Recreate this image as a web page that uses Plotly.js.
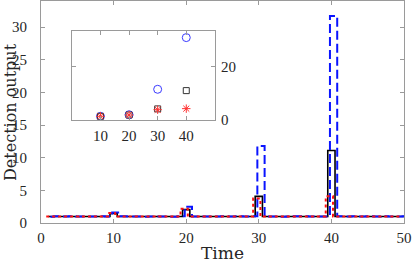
<!DOCTYPE html>
<html><head><meta charset="utf-8">
<script src="https://cdn.plot.ly/plotly-3.0.1.min.js"></script>
<style>html,body{margin:0;padding:0;background:#fff}#chart{width:415px;height:268px}</style>
</head><body><div id="chart"></div>
<script>
// ---- data ----
const time = [1,2,3,4,5,6,7,8,9,10,11,12,13,14,15,16,17,18,19,20,21,22,23,24,25,26,27,28,29,30,31,32,33,34,35,36,37,38,39,40,41,42,43,44,45,46,47,48,49,50];
const blueVals = [0.97,1.02,1.0,1.04,1.01,0.99,1.0,1.02,1.0,1.6,1.03,1.0,0.98,0.95,1.01,1.0,0.99,0.97,1.03,2.5,1.0,1.01,0.99,1.0,1.02,1.0,1.05,1.0,1.03,11.8,0.98,1.0,0.94,1.01,1.04,1.02,1.0,1.01,0.99,31.7,1.03,1.01,1.04,1.0,1.02,0.99,1.03,1.0,1.01,1.02];
const blackVals = [1.0,1.0,1.0,1.0,1.0,1.0,1.0,1.0,1.0,1.45,1.0,1.0,1.0,1.0,1.0,1.0,1.0,1.0,1.0,2.05,1.0,1.0,1.0,1.0,1.0,1.0,1.0,1.0,1.0,4.08,1.0,1.0,1.0,1.0,1.0,1.0,1.0,1.0,1.0,11.1,1.0,1.0,1.0,1.0,1.0,1.0,1.0,1.0,1.0,1.0];
const redVals = [1.0,1.01,1.0,1.0,0.99,1.0,1.0,1.01,1.0,1.55,1.0,1.0,1.0,0.99,1.0,1.0,1.01,1.0,1.0,2.2,1.0,1.0,1.0,1.0,1.0,1.0,1.0,1.0,1.0,3.75,1.0,1.0,1.0,1.0,1.0,1.0,1.0,1.0,1.0,4.1,1.0,1.0,1.0,1.0,1.0,1.0,1.0,1.0,1.0,1.0];
const insetTime = [10,20,30,40];
const insetBlue = [1.3,1.9,11.5,31.0];
const insetBlack = [1.3,1.8,4.1,11.0];
const insetRed = [1.3,1.8,3.8,4.2];
const xTicks = [0,10,20,30,40,50];
const yTicks = [0,5,10,15,20,25,30];
const insetXTicks = [10,20,30,40];
const insetYTicks = [0,20];
const xTitle = 'Time';
const yTitle = 'Detection output';

// ---- styling ----
const FONT = 'Liberation Serif';
const TITLE_FONT = 'DejaVu Serif';
const TXT = '#262626';
const LINE = '#9a9a9a';
const shift = (arr, d) => arr.map(t => t + d);

const traces = [
  {x: time, y: blackVals, mode:'lines', line:{color:'#000', width:1.6, shape:'hvh'}, xaxis:'x', yaxis:'y'},
  {x: shift(time, 0.3), y: blueVals, mode:'lines', line:{color:'#0a14ff', width:2, dash:'9px,4px', shape:'hvh'}, xaxis:'x', yaxis:'y'},
  {x: shift(time, -0.28), y: redVals, mode:'lines', line:{color:'#ff1010', width:2, dash:'dot', shape:'hvh'}, xaxis:'x', yaxis:'y'},
  {x: insetTime, y: insetBlue, mode:'markers', marker:{symbol:'circle-open', size:8, color:'#3a3aff', line:{width:1}}, xaxis:'x2', yaxis:'y2'},
  {x: insetTime, y: insetBlack, mode:'markers', marker:{symbol:'square-open', size:6, color:'#333', line:{width:1}}, xaxis:'x2', yaxis:'y2'},
  {x: insetTime, y: insetRed, mode:'markers', marker:{symbol:'asterisk-open', size:7, color:'#ff3030', line:{width:1}}, xaxis:'x2', yaxis:'y2'}
];

function ax(extra) {
  return Object.assign({showgrid:false, zeroline:false, showline:true, linecolor:LINE, linewidth:1, mirror:'ticks', ticks:'inside', ticklen:4, tickcolor:LINE, tickfont:{family:FONT, size:15, color:TXT}}, extra);
}

const layout = {
  width:415, height:268,
  margin:{l:41, r:11, t:1, b:45},
  font:{family:FONT, size:15, color:TXT},
  paper_bgcolor:'#fff', plot_bgcolor:'#fff',
  showlegend:false,
  xaxis: ax({range:[0,50], tickvals:xTicks, ticklabelstandoff:1, title:{text:xTitle, font:{family:TITLE_FONT, size:17, color:TXT}, standoff:2}}),
  yaxis: ax({range:[0,34], tickvals:yTicks, ticklabelstandoff:10}),
  xaxis2: ax({domain:[0.085,0.479], anchor:'y2', range:[0,50], tickvals:insetXTicks, ticklabelstandoff:2}),
  yaxis2: ax({domain:[0.465,0.865], anchor:'x2', side:'right', range:[0,33.5], tickvals:insetYTicks, ticklabelstandoff:2}),
  annotations:[{text:yTitle, textangle:-90, showarrow:false, borderpad:0, xref:'paper', yref:'paper', x:0, y:0.5, xanchor:'center', yanchor:'middle', xshift:-31, font:{family:TITLE_FONT, size:16, color:TXT}}]
};

Plotly.newPlot('chart', traces, layout, {displayModeBar:false, staticPlot:true});
</script></body></html>
